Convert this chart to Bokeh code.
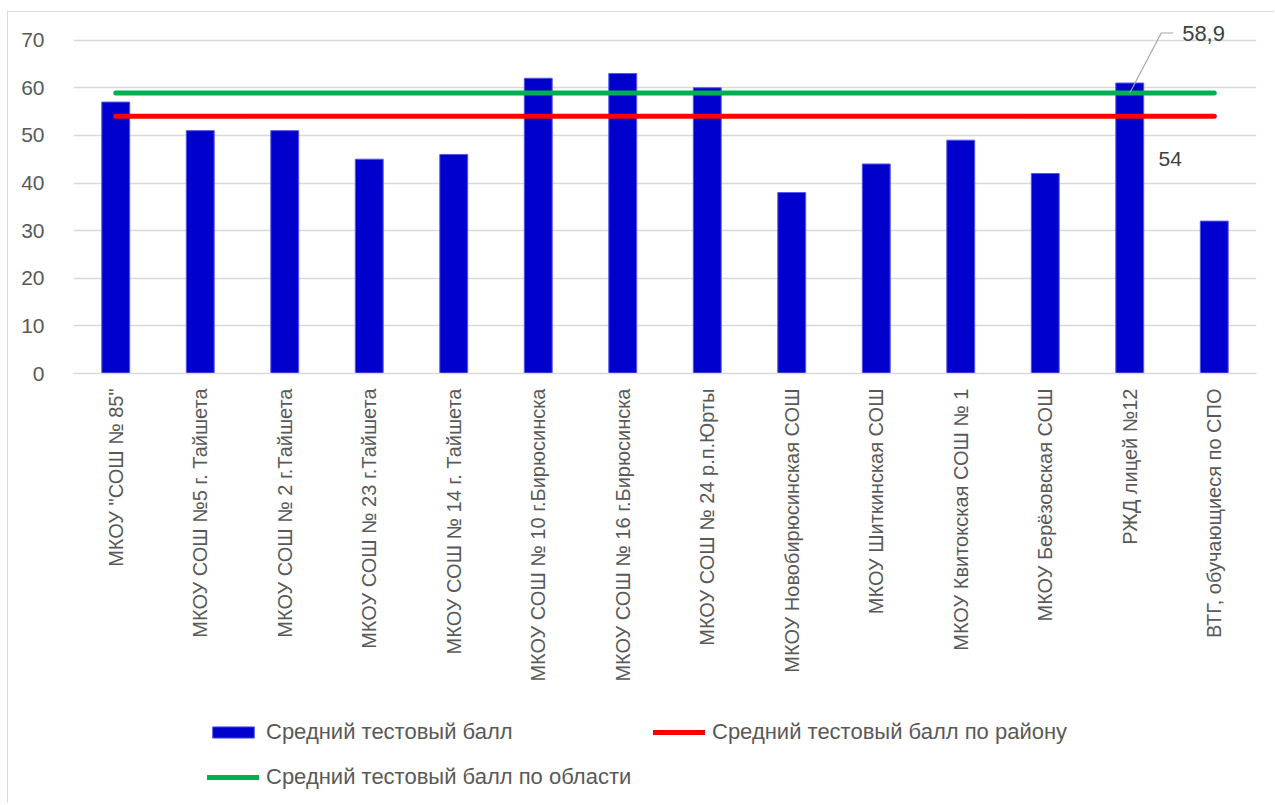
import math
from bokeh.plotting import figure
from bokeh.layouts import column
from bokeh.models import (Range1d, FixedTicker, Legend, LegendItem, Label, ColumnDataSource)
from bokeh.embed import file_html
from bokeh.resources import INLINE

# ---- data ----
schools = [
    'МКОУ "СОШ № 85"',
    'МКОУ СОШ №5 г. Тайшета',
    'МКОУ СОШ № 2 г.Тайшета',
    'МКОУ СОШ № 23 г.Тайшета',
    'МКОУ СОШ № 14 г. Тайшета',
    'МКОУ СОШ № 10 г.Бирюсинска',
    'МКОУ СОШ № 16 г.Бирюсинска',
    'МКОУ СОШ № 24 р.п.Юрты',
    'МКОУ Новобирюсинская СОШ',
    'МКОУ Шиткинская СОШ',
    'МКОУ Квитокская СОШ № 1',
    'МКОУ Берёзовская СОШ',
    'РЖД лицей №12',
    'ВТГ, обучающиеся по СПО',
]
scores = [57, 51, 51, 45, 46, 62, 63, 60, 38, 44, 49, 42, 61, 32]
district_avg = 54
region_avg = 58.9
y_ticks = [0, 10, 20, 30, 40, 50, 60, 70]
series_names = ["Средний тестовый балл",
                "Средний тестовый балл по району",
                "Средний тестовый балл по области"]

FONT = "Liberation Sans"
BAR_COLOR = "#0000CC"
BAR_EDGE = "#5555ee"
RED = "#FF0000"
GREEN = "#00B050"
idx = list(range(len(schools)))

p = figure(frame_width=1183, frame_height=350, output_backend="svg", toolbar_location=None,
           x_range=Range1d(-0.5, len(schools) - 0.5), y_range=Range1d(0, 73.5),
           min_border_left=65, min_border_right=18, min_border_top=11,
           min_border_bottom=330)
p.outline_line_color = None
p.background_fill_color = "white"
p.border_fill_color = "white"

# axes
p.yaxis.ticker = FixedTicker(ticks=y_ticks)
p.yaxis.axis_line_color = None
p.yaxis.major_tick_line_color = None
p.yaxis.minor_tick_line_color = None
p.yaxis.major_label_standoff = 23
p.yaxis.major_label_text_font = FONT
p.yaxis.major_label_text_font_size = "21px"
p.yaxis.major_label_text_color = "#595959"

p.xaxis.ticker = FixedTicker(ticks=idx)
p.xaxis.major_label_overrides = {i: s for i, s in zip(idx, schools)}
p.xaxis.major_label_orientation = math.pi / 2
p.xaxis.axis_line_color = "#d9d9d9"
p.xaxis.axis_line_width = 1.5
p.xaxis.major_tick_line_color = None
p.xaxis.minor_tick_line_color = None
p.xaxis.major_label_standoff = 9
p.xaxis.major_label_text_font = FONT
p.xaxis.major_label_text_font_size = "20px"
p.xaxis.major_label_text_color = "#595959"

p.xgrid.grid_line_color = None
p.ygrid.ticker = FixedTicker(ticks=y_ticks)
p.ygrid.grid_line_color = "#d9d9d9"
p.ygrid.grid_line_width = 1.5

src = ColumnDataSource(dict(x=idx, top=scores))
p.vbar(x="x", top="top", width=0.33, source=src, fill_color=BAR_COLOR,
       line_color=BAR_EDGE, line_width=1)
p.line(x=[idx[0], idx[-1]], y=[district_avg, district_avg], line_color=RED,
       line_width=5, line_cap="round")
p.line(x=[idx[0], idx[-1]], y=[region_avg, region_avg], line_color=GREEN,
       line_width=5, line_cap="round")

# data labels
k = idx[-2]
p.line(x=[k, k + 0.373, k + 0.515], y=[region_avg, 71.5, 71.5], line_color="#a6a6a6", line_width=1.2)
p.add_layout(Label(x=k + 0.62, y=71.3, text=str(region_avg).replace(".", ","),
                   text_font=FONT, text_font_size="22px", text_color="#404040",
                   text_baseline="middle"))
p.add_layout(Label(x=k + 0.34, y=45.1, text=str(district_avg),
                   text_font=FONT, text_font_size="21px", text_color="#404040",
                   text_baseline="middle"))

# ---- legend strip (separate figure so the legend is not clipped) ----
leg = figure(width=1266, height=100, output_backend="svg", toolbar_location=None,
             x_axis_type=None, y_axis_type=None, x_range=Range1d(0, 1), y_range=Range1d(0, 1),
             min_border=0)
leg.outline_line_color = None
leg.xgrid.visible = False
leg.ygrid.visible = False
# legend proxies, kept outside the visible range
r_bar = leg.vbar(x=[-5], top=[-5], width=0.1, fill_color=BAR_COLOR, line_color=BAR_EDGE)
r_red = leg.line(x=[-5, -4], y=[-5, -5], line_color=RED, line_width=5, line_cap="round")
r_green = leg.line(x=[-5, -4], y=[-5, -5], line_color=GREEN, line_width=5, line_cap="round")


def make_legend(items, loc):
    lg = Legend(items=items, orientation="horizontal", location=loc)
    lg.label_text_font = FONT
    lg.label_text_font_size = "22px"
    lg.label_text_color = "#595959"
    lg.glyph_width = 52
    lg.glyph_height = 14
    lg.label_standoff = 7
    lg.label_width = 365
    lg.spacing = 22
    lg.padding = 0
    lg.margin = 0
    lg.border_line_color = None
    lg.background_fill_color = None
    return lg


leg.add_layout(make_legend([LegendItem(label=series_names[0], renderers=[r_bar]),
                            LegendItem(label=series_names[1], renderers=[r_red])], (134, 58)), "center")
leg.add_layout(make_legend([LegendItem(label=series_names[2], renderers=[r_green])], (134, 13)), "center")

layout = column(p, leg, spacing=0)
layout.styles = {"border-left": "1px solid #d9d9d9", "border-top": "1px solid #d9d9d9",
                 "margin-top": "11px", "margin-left": "7px"}

open("out.html", "w").write(file_html(layout, INLINE))
